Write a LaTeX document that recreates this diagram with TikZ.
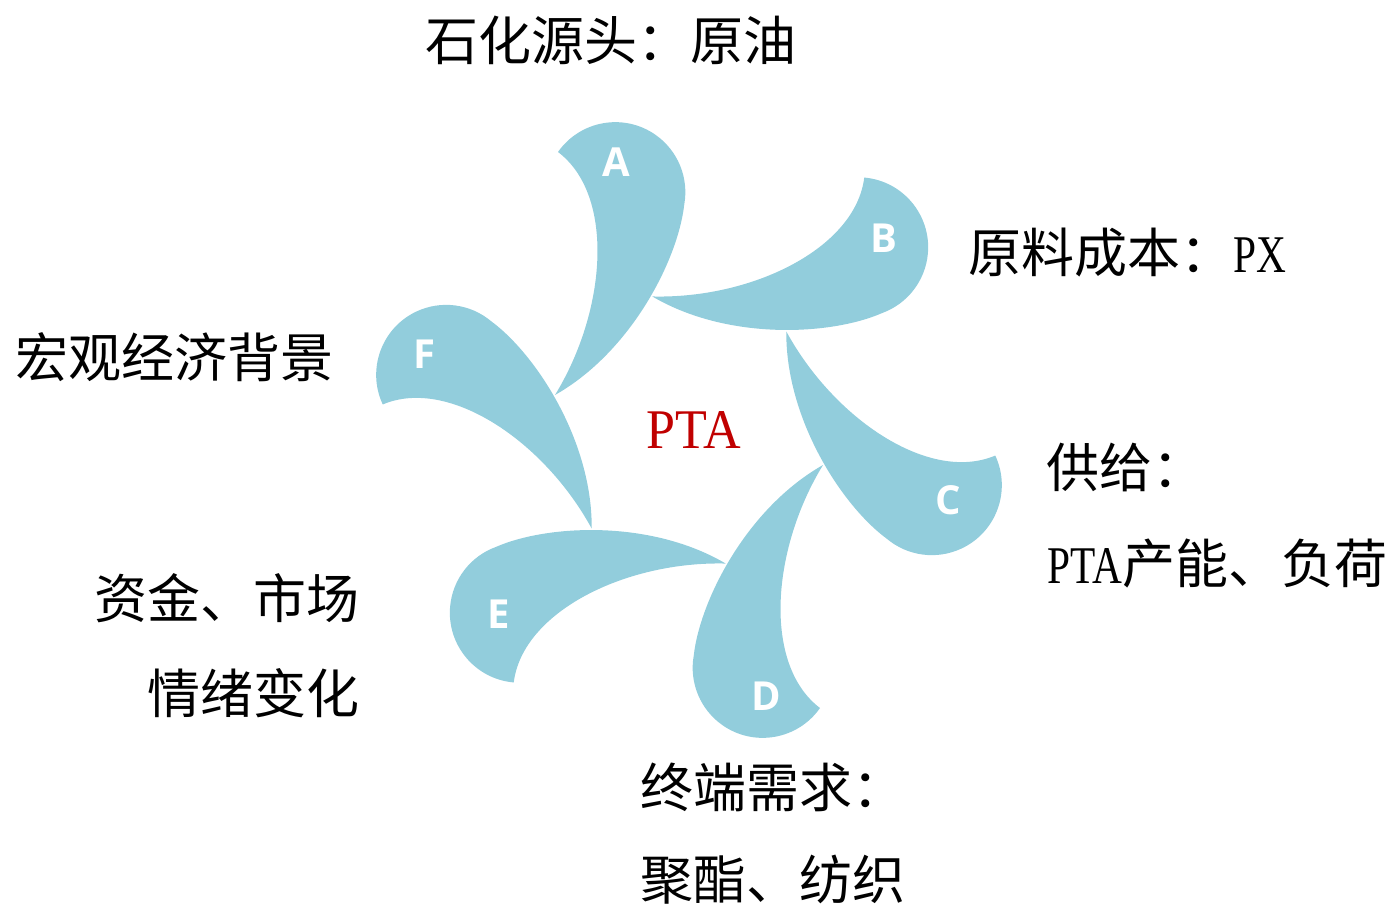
\documentclass[tikz,border=0pt]{standalone}
\usepackage{fontspec}
\setmainfont{Liberation Serif}
\newfontfamily\cjk{Noto Sans CJK SC}
\newfontfamily\lab{Open Sans}
\definecolor{petal}{RGB}{146,205,220}
\definecolor{ptared}{RGB}{192,0,0}
\newcommand{\lat}[1]{\scalebox{0.78}[1]{#1}}
\begin{document}
\begin{tikzpicture}[x=0.75pt,y=-0.75pt,
  petalshape/.style={fill=petal,draw=none},
  letter/.style={text=white,font=\lab\bfseries\fontsize{30}{36}\selectfont,inner sep=0},
  label/.style={font=\cjk\fontsize{39.75}{48}\selectfont,inner sep=0,text=black}]
\useasboundingbox (0,0) rectangle (1397,907);
\begin{scope}[shift={(689,430)},yscale=-1]
\foreach \k in {0,...,5}{
  \begin{scope}[rotate={-60*\k}]
   \path[petalshape] (-134,35) .. controls (-82,120) and (-74,235) .. (-131,278)
      arc[start angle=145,end angle=-10,radius=70]
      .. controls (-11,170) and (-58,78) .. (-134,35) -- cycle;
  \end{scope}
}
\end{scope}
\node[letter] (lA) at (616,162) {A};
\node[letter] (lB) at (884,238) {B};
\node[letter] (lC) at (948,500) {C};
\node[letter] (lD) at (766,696) {D};
\node[letter] (lE) at (499,614) {E};
\node[letter] (lF) at (424,354) {F};
\node[font=\fontsize{42}{50}\selectfont,text=ptared,inner sep=0] (pta) at (694,430) {\scalebox{0.93}[1]{PTA}};
\node[label,anchor=west] (t1) at (425,40) {石化源头：原油};
\node[label,anchor=west] (t2) at (968,253) {原料成本：{\rmfamily\lat{PX}}};
\node[label,anchor=west] (t3) at (15,357) {宏观经济背景};
\node[label,anchor=west] (t4a) at (1046,467) {供给：};
\node[label,anchor=west] (t4b) at (1047,563) {{\rmfamily\lat{PTA}}产能、负荷};
\node[label,anchor=east] (t5a) at (360,598) {资金、市场};
\node[label,anchor=east] (t5b) at (360,693) {情绪变化};
\node[label,anchor=west] (t6a) at (640,787) {终端需求：};
\node[label,anchor=west] (t6b) at (640,880) {聚酯、纺织};
\end{tikzpicture}
\end{document}
